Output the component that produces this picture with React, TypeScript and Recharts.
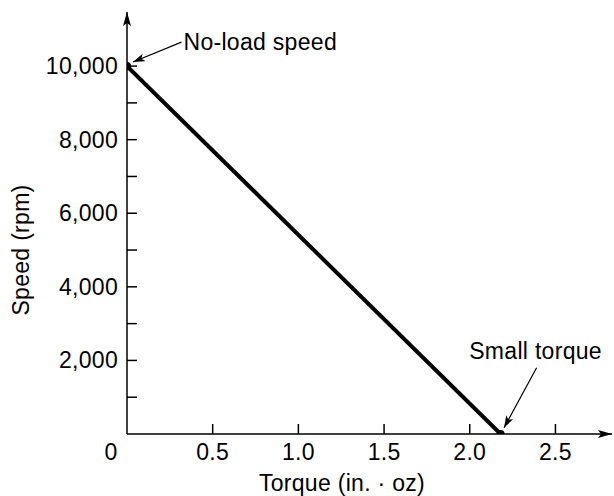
import React from "react"
import { LineChart, Line, XAxis, YAxis, ReferenceLine } from "recharts"

// torque (in.·oz) vs speed (rpm)
const torque = [0, 2.18]
const speed = [10000, 0]

const xTicks = [0, 0.5, 1, 1.5, 2, 2.5]
const xTickLabels = ["0", "0.5", "1.0", "1.5", "2.0", "2.5"]
const yTicks = [0, 1000, 2000, 3000, 4000, 5000, 6000, 7000, 8000, 9000, 10000]
const yLabelled = [2000, 4000, 6000, 8000, 10000]

// annotation arrows: [from, to] in data units
const noLoadArrow = [{ x: 0.318, y: 10650 }, { x: 0.035, y: 10110 }]
const smallTorqueArrow = [{ x: 2.39, y: 1800 }, { x: 2.2, y: 170 }]

const data = torque.map((t, i) => ({ t, s: speed[i] }))

const FONT = "'Liberation Sans', Arial, Helvetica, sans-serif"
const FS = 23
const LS = 0.3

function XTick({ x, y, payload }: any) {
  const i = xTicks.indexOf(payload.value)
  const label = xTickLabels[i] ?? String(payload.value)
  const isZero = payload.value === 0
  return (
    <g>
      {!isZero && <line x1={x} y1={y} x2={x} y2={y - 10} stroke="#000" strokeWidth={1.5} />}
      <text x={isZero ? x - 16 : x} y={y + 26} textAnchor="middle" fontSize={FS} letterSpacing={LS}
        fontFamily={FONT} fill="#000">
        {label}
      </text>
    </g>
  )
}

function YTick({ x, y, payload }: any) {
  const v = payload.value
  if (v === 0) return <g />
  return (
    <g>
      <line x1={x} y1={y} x2={x + 10} y2={y} stroke="#000" strokeWidth={1.5} />
      {yLabelled.includes(v) && (
        <text x={x - 9} y={y + 8} textAnchor="end" fontSize={FS} letterSpacing={LS} fontFamily={FONT} fill="#000">
          {v.toLocaleString("en-US")}
        </text>
      )}
    </g>
  )
}

function annotation(text: string, dx: number, dy: number, anchor: string) {
  return (props: any) => {
    const { x1, y1, x2, y2 } = props
    return (
      <g>
        <line x1={x1} y1={y1} x2={x2} y2={y2} stroke="#000" strokeWidth={1.2} markerEnd="url(#annArrow)" />
        <text x={x1 + dx} y={y1 + dy} textAnchor={anchor} fontSize={FS} letterSpacing={LS} fontFamily={FONT}
          fill="#000">
          {text}
        </text>
      </g>
    )
  }
}

export default function App() {
  return (
    <div style={{ position: "absolute", left: 0, top: 0, width: 614, height: 496, background: "#fff" }}>
      <svg width={0} height={0} style={{ position: "absolute" }}>
        <defs>
          <marker id="axArrow" viewBox="0 0 14 8" refX={14} refY={4} markerWidth={14} markerHeight={8}
            markerUnits="userSpaceOnUse" orient="auto-start-reverse">
            <path d="M0,0 L14,4 L0,8 L3,4 Z" fill="#000" />
          </marker>
          <marker id="annArrow" viewBox="0 0 12 8" refX={12} refY={4} markerWidth={12} markerHeight={8}
            markerUnits="userSpaceOnUse" orient="auto">
            <path d="M0,0 L12,4 L0,8 L3,4 Z" fill="#000" />
          </marker>
        </defs>
      </svg>
      <LineChart width={614} height={496} data={data} margin={{ top: 12, right: 2, bottom: 0, left: 0 }}>
        <XAxis
          dataKey="t"
          type="number"
          domain={[0, 2.83]}
          ticks={xTicks}
          allowDataOverflow
          height={62}
          tickSize={0}
          tickMargin={0}
          tickLine={false}
          tick={<XTick />}
          axisLine={{ stroke: "#000", strokeWidth: 1.5, markerEnd: "url(#axArrow)" }}
          label={{
            content: ({ viewBox }: any) => (
              <text x={342} y={viewBox.y + 57} textAnchor="middle" fontSize={FS} letterSpacing={LS}
                fontFamily={FONT} fill="#000">
                Torque (in. · oz)
              </text>
            ),
          }}
        />
        <YAxis
          dataKey="s"
          type="number"
          domain={[0, 11470]}
          ticks={yTicks}
          allowDataOverflow
          width={127}
          tickSize={0}
          tickMargin={0}
          tickLine={false}
          tick={<YTick />}
          axisLine={{ stroke: "#000", strokeWidth: 1.5, markerStart: "url(#axArrow)" }}
          label={{
            content: ({ viewBox }: any) => {
              const cx = viewBox.x + 29
              const cy = 250
              return (
                <text x={cx} y={cy} transform={`rotate(-90 ${cx} ${cy})`} textAnchor="middle" fontSize={FS}
                  letterSpacing={LS} fontFamily={FONT} fill="#000">
                  Speed (rpm)
                </text>
              )
            },
          }}
        />
        <ReferenceLine
          segment={noLoadArrow}
          ifOverflow="visible"
          shape={annotation("No-load speed", 2, 8, "start")}
        />
        <ReferenceLine
          segment={smallTorqueArrow}
          ifOverflow="visible"
          shape={annotation("Small torque", -1, -9, "middle")}
        />
        <Line
          dataKey="s"
          stroke="#000"
          strokeWidth={4}
          dot={{ r: 4, fill: "#000", stroke: "none" }}
          isAnimationActive={false}
        />
      </LineChart>
    </div>
  )
}
